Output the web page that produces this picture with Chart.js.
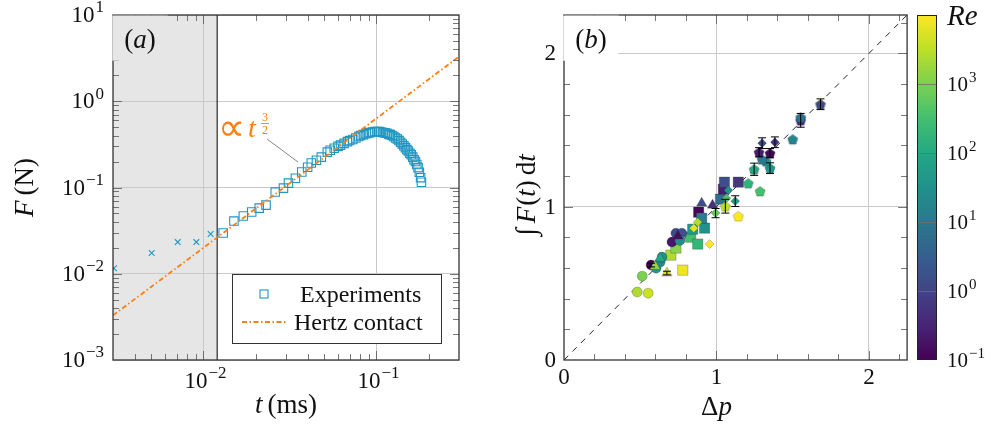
<!DOCTYPE html>
<html>
<head>
<meta charset="utf-8">
<script src="https://cdn.jsdelivr.net/npm/chart.js@4.4.1/dist/chart.umd.min.js"></script>
<style>
  html, body { margin: 0; padding: 0; background: #fff; }
  #wrap { position: relative; width: 999px; height: 425px; overflow: hidden; }
  #wrap canvas { position: absolute; top: 0; }
</style>
</head>
<body>
<div id="wrap">
  <canvas id="ca" width="480" height="425" style="left:0"></canvas>
  <canvas id="cb" width="435" height="425" style="left:480px"></canvas>
  <canvas id="cc" width="94" height="425" style="left:905px"></canvas>
</div>
<script>
// ---- panel (a): force vs time ----
// early points inside the grey region (crosses)
var crossT = [0.00304, 0.00502, 0.0071, 0.0091, 0.0110];
var crossF = [0.0116, 0.0174, 0.0233, 0.0233, 0.0289];
// experiments (squares)
var expT = [0.013, 0.015, 0.017, 0.019, 0.021, 0.023, 0.026, 0.029, 0.031, 0.034,
            0.037, 0.040, 0.042, 0.045, 0.048, 0.052, 0.054, 0.057, 0.060, 0.062,
            0.065, 0.068, 0.070, 0.073, 0.076, 0.079, 0.081, 0.084, 0.087, 0.090,
            0.092, 0.095, 0.098, 0.101, 0.104, 0.106, 0.109, 0.112, 0.115, 0.118,
            0.120, 0.123, 0.126, 0.129, 0.132, 0.135, 0.138, 0.141, 0.144, 0.147,
            0.150, 0.153, 0.156, 0.159, 0.162, 0.165, 0.168, 0.171, 0.174, 0.177,
            0.180, 0.182];
var expF = [0.0297, 0.0408, 0.0467, 0.0519, 0.0577, 0.0625, 0.0885, 0.0984, 0.1125, 0.128,
            0.151, 0.172, 0.192, 0.207, 0.225, 0.257, 0.270, 0.285, 0.300, 0.310,
            0.325, 0.340, 0.350, 0.360, 0.375, 0.390, 0.400, 0.410, 0.420, 0.430,
            0.435, 0.440, 0.445, 0.445, 0.445, 0.440, 0.435, 0.430, 0.425, 0.415,
            0.410, 0.400, 0.390, 0.375, 0.365, 0.350, 0.335, 0.320, 0.305, 0.290,
            0.275, 0.265, 0.250, 0.240, 0.225, 0.210, 0.200, 0.185, 0.170, 0.150,
            0.130, 0.115];
// Hertz contact line end points
var hertzT = [0.003, 0.3];
var hertzF = [0.00329, 3.29];
var shadeEnd = 0.012;

// ---- panel (b): impulse vs momentum change ----
var dP = [0.480, 0.552, 0.513, 0.571, 0.604, 0.630, 0.643, 0.708, 0.734, 0.773, 0.760,
          0.779, 0.701, 0.734, 0.831, 0.877, 0.844, 0.922, 0.883, 0.903, 1.026, 1.045, 1.052, 1.143,
          0.675, 0.597, 0.630, 0.747, 0.903, 0.974,
          0.955, 0.851, 0.877, 0.994, 1.065, 1.123, 1.078, 1.299, 1.383,
          1.143, 1.058, 1.286, 1.208, 1.247, 1.351, 1.325, 1.299, 1.279, 1.351, 1.500, 1.552, 1.552, 1.682];
var impulse = [0.443, 0.436, 0.547, 0.619, 0.599, 0.638, 0.671, 0.769, 0.827, 0.827, 0.780,
          0.586, 0.684, 0.730, 0.801, 0.756, 0.853, 0.860, 0.964, 0.925, 1.049, 1.114, 1.160, 1.160,
          0.567, 0.612, 0.664, 0.808, 1.023, 1.010,
          0.756, 0.860, 0.899, 0.958, 1.055, 1.036, 1.107, 1.414, 1.420,
          0.938, 1.003, 1.101, 1.153, 1.244, 1.251, 1.296, 1.309, 1.355, 1.349, 1.440, 1.563, 1.583, 1.668];
var logRe = [3.4, 3.6, 3.0, -1.0, 1.6, 1.3, 1.5, -0.7, 0.1, 0.3, 1.4,
          3.9, 3.4, 3.1, 2.5, 2.3, 1.7, 1.5, -0.9, 1.1, 0.8, -0.6, 0.2, -0.2,
          3.7, 3.2, 2.0, -0.8, 0.2, -0.3,
          4.0, 3.8, 3.4, 2.8, 2.6, 1.8, 1.5, 0.1, -0.2,
          4.0, 3.5, 2.5, 2.2, 2.0, 1.6, 1.5, 1.0, -0.6, -0.9, 1.2, -0.4, 0.9, 0.1];
var marker = ['c','c','c','c','c','c','c','c','c','c','c',
          's','s','s','s','s','s','s','s','s','s','s','s','s',
          't','t','t','t','t','t',
          'd','d','d','d','d','d','d','d','d',
          'p','p','p','p','p','p','p','p','p','p','p','p','p','p'];
var errBar = [0, 0, 0, 0.012, 0, 0, 0, 0, 0, 0, 0,
          0, 0, 0, 0, 0, 0, 0, 0, 0, 0, 0, 0, 0,
          0.012, 0, 0, 0, 0, 0,
          0, 0, 0, 0.03, 0, 0.035, 0, 0.035, 0.035,
          0, 0.045, 0, 0, 0.04, 0.035, 0, 0, 0.03, 0.03, 0, 0.045, 0, 0.035];
var diagLine = [0, 2.25];
var reMin = 0.1, reMax = 10000;

var FONT = '"Liberation Serif", "DejaVu Serif", serif';
var ORANGE = '#ff7f0e';
var BLUE = '#1f97c4';
var VIR = ['#440154','#482475','#414487','#355f8d','#2a788e','#21918c',
           '#22a884','#44bf70','#7ad151','#bddf26','#fde725'];

function hex2rgb(h) { return [1, 3, 5].map(function (i) { return parseInt(h.substr(i, 2), 16); }); }
function viridis(t) {
  t = Math.max(0, Math.min(1, t));
  var p = t * (VIR.length - 1);
  var i = Math.min(Math.floor(p), VIR.length - 2), f = p - i;
  var a = hex2rgb(VIR[i]), b = hex2rgb(VIR[i + 1]);
  return 'rgb(' + a.map(function (v, k) { return Math.round(v + (b[k] - v) * f); }).join(',') + ')';
}
function reColor(lr) { return viridis((lr - Math.log10(reMin)) / (Math.log10(reMax) - Math.log10(reMin))); }

function pentagon(color, r) {
  var c = document.createElement('canvas');
  var s = Math.ceil(2 * r + 3);
  c.width = c.height = s;
  var g = c.getContext('2d');
  g.beginPath();
  for (var k = 0; k < 5; k++) {
    var ang = -Math.PI / 2 + k * 2 * Math.PI / 5;
    g.lineTo(s / 2 + r * Math.cos(ang), s / 2 + 0.6 + r * Math.sin(ang));
  }
  g.closePath();
  g.fillStyle = color; g.fill();
  g.strokeStyle = 'rgba(50,50,50,0.45)'; g.lineWidth = 0.6; g.stroke();
  return c;
}

// text helpers
function setFont(ctx, size, it, fam) { ctx.font = (it ? 'italic ' : '') + size + 'px ' + (fam || FONT); }
function richWidth(ctx, parts) {
  var w = 0;
  parts.forEach(function (p) { setFont(ctx, p.s, p.i, p.f); w += ctx.measureText(p.t).width + (p.gap || 0); });
  return w;
}
function drawRich(ctx, parts, x, y, align) {
  var w = richWidth(ctx, parts);
  var cx = align === 'center' ? x - w / 2 : (align === 'right' ? x - w : x);
  ctx.textAlign = 'left'; ctx.textBaseline = 'alphabetic';
  parts.forEach(function (p) {
    setFont(ctx, p.s, p.i, p.f);
    ctx.fillText(p.t, cx, y + (p.dy || 0));
    cx += ctx.measureText(p.t).width + (p.gap || 0);
  });
}
function powParts(e, S) {
  var ex = e < 0 ? '\u2212' + (-e) : '' + e;
  return [{ t: '10', s: S, gap: 1 }, { t: ex, s: Math.round(S * 0.72), dy: -S * 0.42 }];
}

function logTicks(lo, hi) {
  var out = [];
  for (var e = Math.floor(Math.log10(lo)); e <= Math.ceil(Math.log10(hi)); e++) {
    for (var m = 1; m < 10; m++) {
      var v = m * Math.pow(10, e);
      if (v > lo * 1.001 && v < hi * 0.999) out.push({ v: v, major: m === 1 });
    }
  }
  return out;
}
function isDecade(v) { var l = Math.log10(v); return Math.abs(l - Math.round(l)) < 1e-6; }

function drawFrameTicks(chart, xt, yt) {
  var ctx = chart.ctx, a = chart.chartArea, sx = chart.scales.x, sy = chart.scales.y;
  ctx.save();
  ctx.strokeStyle = '#555'; ctx.lineWidth = 0.8;
  ctx.beginPath();
  xt.forEach(function (t) {
    var px = Math.round(sx.getPixelForValue(t.v)) + 0.5, L = t.major ? 9 : 6;
    ctx.moveTo(px, a.bottom); ctx.lineTo(px, a.bottom - L);
    ctx.moveTo(px, a.top); ctx.lineTo(px, a.top + L);
  });
  yt.forEach(function (t) {
    var py = Math.round(sy.getPixelForValue(t.v)) + 0.5, L = t.major ? 9 : 6;
    ctx.moveTo(a.left, py); ctx.lineTo(a.left + L, py);
    ctx.moveTo(a.right, py); ctx.lineTo(a.right - L, py);
  });
  ctx.stroke();
  ctx.strokeStyle = '#333'; ctx.lineWidth = 1.3;
  ctx.strokeRect(a.left, a.top, a.right - a.left, a.bottom - a.top);
  ctx.restore();
}

var common = {
  animation: false, responsive: false, events: [],
  plugins: { legend: { display: false }, tooltip: { enabled: false } }
};

// ---------------- panel (a) ----------------
var panelA = {
  id: 'panelA',
  beforeDraw: function (chart) {
    var ctx = chart.ctx, a = chart.chartArea;
    var xs = chart.scales.x.getPixelForValue(shadeEnd);
    ctx.save();
    ctx.fillStyle = '#e6e6e6';
    ctx.fillRect(a.left, a.top, xs - a.left, a.bottom - a.top);
    ctx.restore();
  },
  beforeDatasetsDraw: function (chart) {
    var ctx = chart.ctx, a = chart.chartArea;
    var xs = chart.scales.x.getPixelForValue(shadeEnd);
    ctx.save();
    ctx.strokeStyle = '#000'; ctx.lineWidth = 1;
    ctx.beginPath(); ctx.moveTo(xs, a.top); ctx.lineTo(xs, a.bottom); ctx.stroke();
    ctx.restore();
  },
  afterDraw: function (chart) {
    var ctx = chart.ctx, a = chart.chartArea, sx = chart.scales.x, sy = chart.scales.y;
    drawFrameTicks(chart, logTicks(0.003, 0.3), logTicks(0.001, 10));
    ctx.save();
    ctx.fillStyle = '#111';
    // tick labels
    [-3, -2, -1, 0, 1].forEach(function (e) {
      drawRich(ctx, powParts(e, 23), 104, sy.getPixelForValue(Math.pow(10, e)) + 7, 'right');
    });
    [-2, -1].forEach(function (e) {
      drawRich(ctx, powParts(e, 23), sx.getPixelForValue(Math.pow(10, e)) + 2, 388, 'center');
    });
    // axis titles
    drawRich(ctx, [{ t: 't', s: 27, i: true, gap: 5 }, { t: '(ms)', s: 27 }], (a.left + a.right) / 2, 413, 'center');
    ctx.save();
    ctx.translate(33, (a.top + a.bottom) / 2);
    ctx.rotate(-Math.PI / 2);
    drawRich(ctx, [{ t: 'F', s: 27, i: true, gap: 5 }, { t: '(N)', s: 27 }], 0, 0, 'center');
    ctx.restore();

    // panel label box
    ctx.fillStyle = '#e6e6e6';
    ctx.fillRect(a.left - 0.7, a.top + 0.7, 55, 45);
    ctx.strokeStyle = '#aaa'; ctx.lineWidth = 0.8;
    ctx.beginPath(); ctx.moveTo(a.left, a.top); ctx.lineTo(a.left + 55, a.top); ctx.stroke();
    ctx.fillStyle = '#111';
    drawRich(ctx, [{ t: '(', s: 27 }, { t: 'a', s: 27, i: true }, { t: ')', s: 27 }], a.left + 27, a.top + 33, 'center');

    // power-law annotation
    ctx.strokeStyle = '#777'; ctx.lineWidth = 0.9;
    ctx.beginPath(); ctx.moveTo(267, 139); ctx.lineTo(298, 162); ctx.stroke();
    ctx.fillStyle = ORANGE;
    drawRich(ctx, [{ t: '\u221d', s: 38, f: '"Liberation Serif", "DejaVu Sans", serif' }], 218, 140, 'left');
    drawRich(ctx, [{ t: 't', s: 28, i: true }], 248, 137, 'left');
    setFont(ctx, 12, false);
    ctx.textAlign = 'center'; ctx.textBaseline = 'alphabetic';
    ctx.fillText('3', 265, 121);
    ctx.fillText('2', 265, 134);
    ctx.fillRect(261, 123, 8, 0.9);

    // legend
    ctx.fillStyle = '#fff';
    ctx.fillRect(232, 274, 209, 69);
    ctx.strokeStyle = '#333'; ctx.lineWidth = 1;
    ctx.strokeRect(232.5, 274.5, 209, 69);
    ctx.strokeStyle = BLUE; ctx.lineWidth = 1.1;
    ctx.strokeRect(260, 290, 8, 8);
    ctx.strokeStyle = ORANGE; ctx.lineWidth = 1.8;
    ctx.setLineDash([5, 2.5, 1.5, 2.5]);
    ctx.beginPath(); ctx.moveTo(242, 322); ctx.lineTo(287, 322); ctx.stroke();
    ctx.setLineDash([]);
    ctx.fillStyle = '#111';
    drawRich(ctx, [{ t: 'Experiments', s: 24 }], 300, 302, 'left');
    drawRich(ctx, [{ t: 'Hertz contact', s: 24 }], 294, 330, 'left');
    ctx.restore();
  }
};

new Chart(document.getElementById('ca'), {
  type: 'scatter',
  data: {
    datasets: [
      { label: 'Hertz contact', data: hertzT.map(function (t, i) { return { x: t, y: hertzF[i] }; }),
        showLine: true, borderColor: ORANGE, borderWidth: 1.8, borderDash: [5, 2.5, 1.5, 2.5], pointRadius: 0, order: 0 },
      { label: 'Experiments', data: expT.map(function (t, i) { return { x: t, y: expF[i] }; }),
        pointStyle: 'rect', pointRadius: 6.0, borderColor: BLUE, borderWidth: 1.1,
        backgroundColor: 'rgba(0,0,0,0)', order: 1 },
      { label: 'early', data: crossT.map(function (t, i) { return { x: t, y: crossF[i] }; }),
        pointStyle: 'crossRot', pointRadius: 4, borderColor: BLUE, borderWidth: 1.1, order: 2 }
    ]
  },
  options: Object.assign({}, common, {
    layout: { padding: { top: 15, right: 21, left: 0, bottom: 0 } },
    scales: {
      x: { type: 'logarithmic', min: 0.003, max: 0.3, ticks: { display: false },
           grid: { drawTicks: false, color: function (c) { return isDecade(c.tick.value) ? '#c9c9c9' : 'rgba(0,0,0,0)'; } },
           border: { display: false }, afterFit: function (s) { s.height = 65; } },
      y: { type: 'logarithmic', min: 0.001, max: 10, ticks: { display: false },
           grid: { drawTicks: false, color: function (c) { return isDecade(c.tick.value) ? '#c9c9c9' : 'rgba(0,0,0,0)'; } },
           border: { display: false }, afterFit: function (s) { s.width = 113; } }
    }
  }),
  plugins: [panelA]
});

// ---------------- panel (b) ----------------
var SHAPES = {
  s: { style: 'rect', r: 7.3, order: 5 },
  c: { style: 'circle', r: 5.0, order: 4 },
  t: { style: 'triangle', r: 6.0, order: 3 },
  p: { style: null, r: 5.4, order: 2 },
  d: { style: 'rectRot', r: 4.4, order: 1 }
};
var bSets = Object.keys(SHAPES).map(function (k) {
  var idx = [];
  marker.forEach(function (m, i) { if (m === k) idx.push(i); });
  var cols = idx.map(function (i) { return reColor(logRe[i]); });
  return {
    label: k,
    data: idx.map(function (i) { return { x: dP[i], y: impulse[i] }; }),
    pointStyle: SHAPES[k].style ? SHAPES[k].style : cols.map(function (c) { return pentagon(c, SHAPES[k].r); }),
    pointRadius: SHAPES[k].r,
    backgroundColor: cols,
    borderColor: 'rgba(50,50,50,0.45)',
    borderWidth: 0.6,
    order: SHAPES[k].order
  };
});
bSets.push({
  label: 'diag', data: diagLine.map(function (v) { return { x: v, y: v }; }),
  showLine: true, borderColor: '#222', borderWidth: 1, borderDash: [6, 6], pointRadius: 0, order: 6
});

function minorB() {
  var out = [];
  for (var k = 1; k <= 11; k++) out.push({ v: k * 0.2, major: k % 5 === 0 });
  return out;
}

var panelB = {
  id: 'panelB',
  afterDraw: function (chart) {
    var ctx = chart.ctx, a = chart.chartArea, sx = chart.scales.x, sy = chart.scales.y;
    // error bars
    ctx.save();
    ctx.strokeStyle = '#000'; ctx.lineWidth = 1;
    ctx.beginPath();
    errBar.forEach(function (e, i) {
      if (!e) return;
      var px = sx.getPixelForValue(dP[i]);
      var y1 = sy.getPixelForValue(impulse[i] - e), y2 = sy.getPixelForValue(impulse[i] + e);
      ctx.moveTo(px, y1); ctx.lineTo(px, y2);
      ctx.moveTo(px - 4, y1); ctx.lineTo(px + 4, y1);
      ctx.moveTo(px - 4, y2); ctx.lineTo(px + 4, y2);
    });
    ctx.stroke();
    ctx.restore();

    drawFrameTicks(chart, minorB(), minorB());
    ctx.save();
    ctx.fillStyle = '#111';
    [0, 1, 2].forEach(function (v) {
      drawRich(ctx, [{ t: '' + v, s: 23 }], a.left - 8, sy.getPixelForValue(v) + 7, 'right');
      drawRich(ctx, [{ t: '' + v, s: 23 }], sx.getPixelForValue(v), 384, 'center');
    });
    drawRich(ctx, [{ t: '\u0394', s: 27 }, { t: 'p', s: 27, i: true }], sx.getPixelForValue(1), 415, 'center');
    ctx.save();
    ctx.translate(55, 195);
    ctx.rotate(-Math.PI / 2);
    drawRich(ctx, [{ t: '\u222b', s: 28, gap: 5 }, { t: 'F', s: 27, i: true, gap: 1 }, { t: '(', s: 27 },
                   { t: 't', s: 27, i: true }, { t: ')', s: 27, gap: 5 }, { t: 'd', s: 27 }, { t: 't', s: 27, i: true }],
             0, 0, 'center');
    ctx.restore();

    // panel label box
    ctx.fillStyle = '#fff';
    ctx.fillRect(a.left - 0.7, a.top + 0.7, 55, 45);
    ctx.strokeStyle = '#aaa'; ctx.lineWidth = 0.8;
    ctx.beginPath(); ctx.moveTo(a.left, a.top); ctx.lineTo(a.left + 55, a.top); ctx.stroke();
    ctx.fillStyle = '#111';
    drawRich(ctx, [{ t: '(', s: 27 }, { t: 'b', s: 27, i: true }, { t: ')', s: 27 }], a.left + 27, a.top + 33, 'center');
    ctx.restore();
  }
};

new Chart(document.getElementById('cb'), {
  type: 'scatter',
  data: { datasets: bSets },
  options: Object.assign({}, common, {
    layout: { padding: { top: 15, right: 4, left: 0, bottom: 0 } },
    scales: {
      x: { type: 'linear', min: 0, max: 2.25, ticks: { display: false, stepSize: 0.2 },
           grid: { drawTicks: false, color: function (c) { var v = c.tick.value; return v > 0.5 && Math.abs(v - Math.round(v)) < 1e-6 ? '#c9c9c9' : 'rgba(0,0,0,0)'; } },
           border: { display: false }, afterFit: function (s) { s.height = 65; } },
      y: { type: 'linear', min: 0, max: 2.25, ticks: { display: false, stepSize: 0.2 },
           grid: { drawTicks: false, color: function (c) { var v = c.tick.value; return v > 0.5 && Math.abs(v - Math.round(v)) < 1e-6 ? '#c9c9c9' : 'rgba(0,0,0,0)'; } },
           border: { display: false }, afterFit: function (s) { s.width = 84; } }
    }
  }),
  plugins: [panelB]
});

// ---------------- colour bar ----------------
var colorBar = {
  id: 'colorBar',
  beforeDatasetsDraw: function (chart) {
    var ctx = chart.ctx, a = chart.chartArea, sy = chart.scales.y;
    ctx.save();
    var g = ctx.createLinearGradient(0, a.bottom, 0, a.top);
    VIR.forEach(function (c, i) { g.addColorStop(i / (VIR.length - 1), c); });
    ctx.fillStyle = g;
    ctx.fillRect(a.left, a.top, a.right - a.left, a.bottom - a.top);
    ctx.strokeStyle = 'rgba(110,110,110,0.8)'; ctx.lineWidth = 1;
    ctx.beginPath();
    [0, 1, 2, 3].forEach(function (e) {
      var py = Math.round(sy.getPixelForValue(Math.pow(10, e))) + 0.5;
      ctx.moveTo(a.left, py); ctx.lineTo(a.right, py);
    });
    ctx.stroke();
    ctx.strokeStyle = '#222'; ctx.lineWidth = 1;
    ctx.strokeRect(a.left + 0.5, a.top + 0.5, a.right - a.left - 1, a.bottom - a.top - 1);
    ctx.fillStyle = '#111';
    [-1, 0, 1, 2, 3].forEach(function (e) {
      drawRich(ctx, powParts(e, 21), a.right + 10, sy.getPixelForValue(Math.pow(10, e)) + 7, 'left');
    });
    drawRich(ctx, [{ t: 'R', s: 29, i: true }, { t: 'e', s: 29, i: true }], a.right + 10, a.top + 10, 'left');
    ctx.restore();
  }
};

new Chart(document.getElementById('cc'), {
  type: 'scatter',
  data: { datasets: [{ data: [] }] },
  options: Object.assign({}, common, {
    layout: { padding: { top: 15, right: 62, left: 0, bottom: 65 } },
    scales: {
      x: { display: false },
      y: { type: 'logarithmic', min: reMin, max: reMax, ticks: { display: false },
           grid: { display: false }, border: { display: false },
           afterFit: function (s) { s.width = 12; } }
    }
  }),
  plugins: [colorBar]
});
</script>
</body>
</html>
